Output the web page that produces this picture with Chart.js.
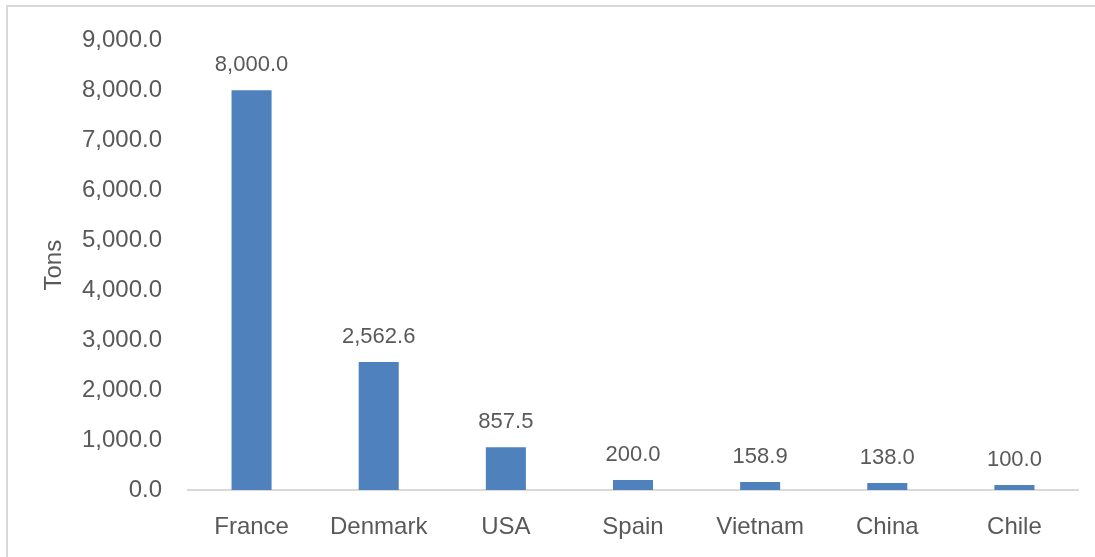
<!DOCTYPE html>
<html>
<head>
<meta charset="utf-8">
<script src="https://cdn.jsdelivr.net/npm/chart.js@4"></script>
<style>
  html, body { margin: 0; padding: 0; background: #fff; }
  #wrap { width: 1095px; height: 557px; position: relative; }
</style>
</head>
<body>
<div id="wrap"><canvas id="tons-chart"></canvas></div>
<script>
// Chart data
const countries = ['France', 'Denmark', 'USA', 'Spain', 'Vietnam', 'China', 'Chile'];
const tons = [8000.0, 2562.6, 857.5, 200.0, 158.9, 138.0, 100.0];
const yTicks = [0, 1000, 2000, 3000, 4000, 5000, 6000, 7000, 8000, 9000];

const textColor = '#595959';
const barColor = '#4f81bd';
const lineColor = '#d9d9d9';

function fmt(v) {
    return Number(v).toLocaleString('en-US', { minimumFractionDigits: 1, maximumFractionDigits: 1 });
}

// value labels above the bars
const barLabels = {
    id: 'barLabels',
    afterDatasetsDraw(chart) {
        const ctx = chart.ctx;
        const meta = chart.getDatasetMeta(0);
        ctx.save();
        ctx.font = '22px "Liberation Sans", Arial, sans-serif';
        ctx.fillStyle = textColor;
        ctx.textAlign = 'center';
        ctx.textBaseline = 'alphabetic';
        meta.data.forEach((bar, i) => {
            ctx.fillText(fmt(tons[i]), bar.x, bar.y - 19);
        });
        ctx.restore();
    }
};

// outer frame (only top and left show in the picture)
const frame = {
    id: 'frame',
    beforeDraw(chart) {
        const ctx = chart.ctx;
        ctx.save();
        ctx.strokeStyle = lineColor;
        ctx.lineWidth = 2;
        ctx.beginPath();
        ctx.moveTo(7, chart.height + 5);
        ctx.lineTo(7, 6);
        ctx.lineTo(chart.width + 5, 6);
        ctx.stroke();
        ctx.restore();
    }
};

Chart.defaults.font.family = '"Liberation Sans", Arial, sans-serif';
Chart.defaults.color = textColor;

const ctx = document.getElementById('tons-chart').getContext('2d');
const tonsChart = new Chart(ctx, {
    type: 'bar',
    data: {
        labels: countries,
        datasets: [{
            label: 'Tons',
            data: tons,
            backgroundColor: barColor,
            categoryPercentage: 1.0,
            barPercentage: 0.315
        }]
    },
    options: {
        responsive: true,
        maintainAspectRatio: false,
        animation: false,
        layout: { padding: { top: 37, right: 17, bottom: 0, left: 0 } },
        plugins: {
            legend: { display: false },
            tooltip: { enabled: false }
        },
        scales: {
            x: {
                afterFit(scale) {
                    scale.height = 67;
                },
                grid: { display: false, drawTicks: false },
                border: { display: true, color: lineColor, width: 2 },
                ticks: { font: { size: 24 }, color: textColor, padding: 23, maxRotation: 0 }
            },
            y: {
                min: 0,
                max: 9000,
                afterBuildTicks(scale) {
                    scale.ticks = yTicks.map(v => ({ value: v }));
                },
                afterFit(scale) {
                    scale.width = 188;
                },
                grid: { display: false, drawTicks: false },
                border: { display: false },
                ticks: {
                    font: { size: 24 },
                    color: textColor,
                    padding: 26,
                    callback: v => fmt(v)
                },
                title: {
                    display: true,
                    text: 'Tons',
                    font: { size: 24 },
                    color: textColor,
                    padding: { top: 40, bottom: 0 }
                }
            }
        }
    },
    plugins: [barLabels, frame]
});
</script>
</body>
</html>
